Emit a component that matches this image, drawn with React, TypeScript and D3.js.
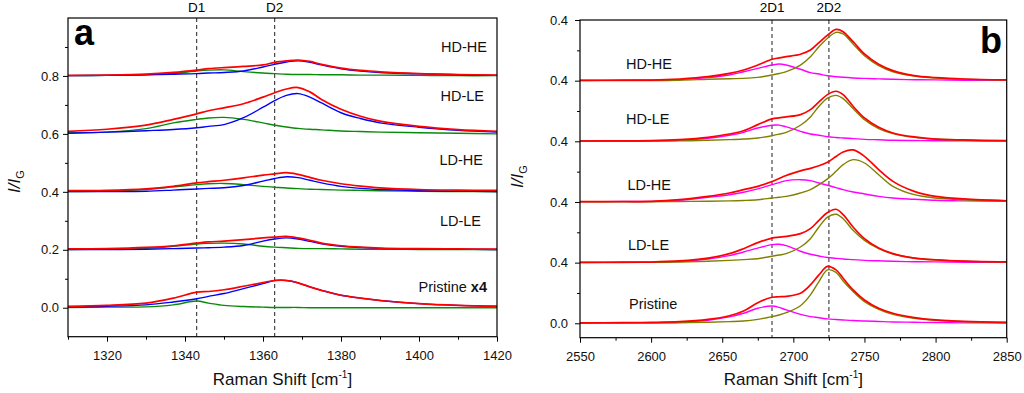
import { useEffect, useRef } from "react";
import * as d3 from "d3";

// ---- panel a : D band (values above each sample's baseline) ----
const dShift = [1310, 1320, 1330, 1337, 1343, 1346, 1350, 1355, 1360, 1363, 1366, 1369, 1372, 1375, 1380, 1385, 1390, 1400, 1410, 1420];
const dOffsets = [0, 0.2, 0.4, 0.6, 0.8];
const dSamples = ["Pristine", "LD-LE", "LD-HE", "HD-LE", "HD-HE"];
const dPeakLines = [1343, 1363];
const dPeakNames = ["D1", "D2"];

const pristineD1 = [0.001, 0.002, 0.003, 0.01, 0.023, 0.016, 0.008, 0.004, 0.002, 0.001, 0.001, 0.001, 0, 0, 0, 0, 0, 0, 0, 0];
const pristineD2 = [0.003, 0.005, 0.01, 0.02, 0.031, 0.039, 0.049, 0.066, 0.083, 0.094, 0.094, 0.086, 0.072, 0.06, 0.043, 0.033, 0.025, 0.014, 0.008, 0.005];
const pristineD = [0.005, 0.008, 0.016, 0.033, 0.054, 0.056, 0.062, 0.074, 0.087, 0.094, 0.094, 0.086, 0.072, 0.06, 0.043, 0.033, 0.025, 0.014, 0.008, 0.005];

const ldleD1 = [0.001, 0.002, 0.005, 0.012, 0.02, 0.022, 0.023, 0.02, 0.012, 0.009, 0.007, 0.005, 0.004, 0.004, 0.003, 0.002, 0.002, 0.001, 0.001, 0];
const ldleD2 = [0.001, 0.001, 0.002, 0.004, 0.006, 0.007, 0.009, 0.015, 0.03, 0.037, 0.041, 0.037, 0.029, 0.021, 0.012, 0.008, 0.005, 0.003, 0.002, 0.001];
const ldleD = [0.003, 0.004, 0.008, 0.014, 0.023, 0.027, 0.03, 0.035, 0.041, 0.044, 0.046, 0.041, 0.033, 0.023, 0.014, 0.009, 0.006, 0.004, 0.003, 0.002];

const ldheD1 = [0.001, 0.003, 0.008, 0.017, 0.025, 0.028, 0.029, 0.025, 0.019, 0.016, 0.013, 0.011, 0.009, 0.008, 0.006, 0.005, 0.004, 0.002, 0.001, 0];
const ldheD2 = [0.001, 0.001, 0.002, 0.006, 0.01, 0.012, 0.014, 0.022, 0.037, 0.046, 0.052, 0.049, 0.04, 0.031, 0.019, 0.012, 0.008, 0.004, 0.002, 0.001];
const ldheD = [0.004, 0.005, 0.01, 0.019, 0.031, 0.035, 0.04, 0.048, 0.058, 0.062, 0.066, 0.06, 0.05, 0.04, 0.028, 0.02, 0.014, 0.008, 0.006, 0.005];

const hdleD1 = [0.004, 0.006, 0.018, 0.038, 0.05, 0.055, 0.057, 0.05, 0.038, 0.03, 0.024, 0.019, 0.016, 0.014, 0.01, 0.008, 0.006, 0.004, 0.002, 0];
const hdleD2 = [0.002, 0.006, 0.011, 0.015, 0.021, 0.026, 0.032, 0.056, 0.092, 0.115, 0.133, 0.139, 0.127, 0.107, 0.073, 0.053, 0.038, 0.023, 0.012, 0.006];
const hdleD = [0.009, 0.016, 0.03, 0.05, 0.069, 0.08, 0.09, 0.104, 0.127, 0.142, 0.155, 0.16, 0.145, 0.119, 0.085, 0.061, 0.044, 0.026, 0.015, 0.009];

const hdheD1 = [0.001, 0.002, 0.004, 0.009, 0.017, 0.02, 0.021, 0.015, 0.01, 0.008, 0.006, 0.005, 0.005, 0.004, 0.004, 0.003, 0.003, 0.002, 0.001, 0.001];
const hdheD2 = [0.001, 0.002, 0.004, 0.006, 0.008, 0.01, 0.012, 0.017, 0.031, 0.04, 0.048, 0.052, 0.047, 0.038, 0.025, 0.017, 0.012, 0.007, 0.004, 0.002];
const hdheD = [0.002, 0.003, 0.006, 0.012, 0.02, 0.025, 0.029, 0.033, 0.038, 0.047, 0.052, 0.055, 0.05, 0.04, 0.027, 0.019, 0.014, 0.008, 0.005, 0.003];

const dTicksX = [1320, 1340, 1360, 1380, 1400, 1420];
const dMinorX = [1310, 1330, 1350, 1370, 1390, 1410];
const dTicksY = [0, 0.2, 0.4, 0.6, 0.8];
const dTickLabelsY = ["0.0", "0.2", "0.4", "0.6", "0.8"];
const dMinorY = [0.1, 0.3, 0.5, 0.7, 0.9];

// ---- panel b : 2D band ----
const tdShift = [2550, 2580, 2600, 2620, 2640, 2655, 2665, 2675, 2685, 2690, 2695, 2705, 2712, 2718, 2724, 2730, 2735, 2742, 2750, 2760, 2770, 2785, 2800, 2820, 2850];
const tdOffsets = [0, 0.4, 0.8, 1.2, 1.6];
const tdSamples = ["Pristine", "LD-LE", "LD-HE", "HD-LE", "HD-HE"];
const tdPeakLines = [2685, 2725];
const tdPeakNames = ["2D1", "2D2"];

const pristine2D1 = [0.002, 0.003, 0.004, 0.007, 0.02, 0.042, 0.066, 0.099, 0.114, 0.105, 0.088, 0.059, 0.044, 0.037, 0.029, 0.025, 0.022, 0.018, 0.015, 0.012, 0.009, 0.007, 0.005, 0.003, 0.002];
const pristine2D2 = [0.001, 0.001, 0.002, 0.004, 0.007, 0.011, 0.015, 0.026, 0.044, 0.055, 0.07, 0.116, 0.187, 0.275, 0.352, 0.336, 0.279, 0.209, 0.143, 0.092, 0.059, 0.033, 0.02, 0.011, 0.005];
const pristine2D = [0.003, 0.004, 0.006, 0.011, 0.026, 0.05, 0.081, 0.136, 0.172, 0.175, 0.178, 0.198, 0.253, 0.319, 0.375, 0.352, 0.297, 0.22, 0.154, 0.099, 0.066, 0.037, 0.022, 0.012, 0.006];

const ldle2D1 = [0.002, 0.002, 0.003, 0.007, 0.024, 0.046, 0.07, 0.096, 0.119, 0.121, 0.112, 0.075, 0.055, 0.044, 0.034, 0.028, 0.024, 0.02, 0.015, 0.012, 0.009, 0.006, 0.005, 0.003, 0.002];
const ldle2D2 = [0.001, 0.001, 0.002, 0.004, 0.009, 0.015, 0.02, 0.026, 0.042, 0.05, 0.059, 0.103, 0.158, 0.235, 0.3, 0.319, 0.29, 0.213, 0.147, 0.092, 0.057, 0.031, 0.018, 0.01, 0.004];
const ldle2D = [0.002, 0.003, 0.004, 0.011, 0.03, 0.059, 0.092, 0.132, 0.162, 0.168, 0.173, 0.191, 0.224, 0.279, 0.33, 0.352, 0.317, 0.235, 0.158, 0.096, 0.059, 0.03, 0.018, 0.01, 0.005];

const ldhe2D1 = [0.002, 0.003, 0.004, 0.011, 0.031, 0.048, 0.064, 0.086, 0.114, 0.128, 0.141, 0.147, 0.141, 0.125, 0.11, 0.095, 0.081, 0.066, 0.053, 0.037, 0.026, 0.018, 0.011, 0.007, 0.004];
const ldhe2D2 = [0.001, 0.001, 0.001, 0.003, 0.005, 0.007, 0.01, 0.015, 0.026, 0.031, 0.037, 0.059, 0.081, 0.114, 0.152, 0.202, 0.246, 0.279, 0.257, 0.18, 0.103, 0.048, 0.026, 0.014, 0.006];
const ldhe2D = [0.002, 0.003, 0.004, 0.015, 0.037, 0.059, 0.081, 0.103, 0.135, 0.155, 0.175, 0.205, 0.222, 0.239, 0.262, 0.3, 0.33, 0.343, 0.301, 0.213, 0.136, 0.07, 0.037, 0.02, 0.008];

const hdle2D1 = [0.002, 0.002, 0.003, 0.006, 0.02, 0.04, 0.059, 0.088, 0.106, 0.107, 0.095, 0.066, 0.048, 0.04, 0.03, 0.025, 0.022, 0.018, 0.013, 0.01, 0.007, 0.005, 0.004, 0.003, 0.002];
const hdle2D2 = [0.001, 0.001, 0.001, 0.003, 0.007, 0.011, 0.015, 0.022, 0.037, 0.047, 0.059, 0.106, 0.161, 0.231, 0.285, 0.303, 0.282, 0.216, 0.143, 0.084, 0.051, 0.026, 0.015, 0.008, 0.004];
const hdle2D = [0.002, 0.003, 0.004, 0.011, 0.026, 0.048, 0.07, 0.11, 0.148, 0.155, 0.161, 0.176, 0.209, 0.26, 0.308, 0.33, 0.308, 0.231, 0.154, 0.092, 0.055, 0.029, 0.015, 0.009, 0.004];

const hdhe2D1 = [0.002, 0.002, 0.003, 0.007, 0.02, 0.037, 0.059, 0.081, 0.103, 0.11, 0.103, 0.075, 0.053, 0.044, 0.032, 0.026, 0.022, 0.018, 0.015, 0.012, 0.009, 0.006, 0.005, 0.003, 0.002];
const hdhe2D2 = [0.001, 0.001, 0.001, 0.003, 0.009, 0.013, 0.015, 0.022, 0.037, 0.047, 0.059, 0.103, 0.158, 0.224, 0.28, 0.318, 0.308, 0.242, 0.165, 0.099, 0.059, 0.031, 0.018, 0.01, 0.004];
const hdhe2D = [0.002, 0.003, 0.004, 0.011, 0.026, 0.048, 0.07, 0.103, 0.141, 0.15, 0.158, 0.174, 0.202, 0.251, 0.3, 0.338, 0.323, 0.257, 0.176, 0.108, 0.066, 0.033, 0.02, 0.011, 0.005];

const tdTicksX = [2550, 2600, 2650, 2700, 2750, 2800, 2850];
const tdMinorX = [2575, 2625, 2675, 2725, 2775, 2825];
const tdTicksY = [0, 0.4, 0.8, 1.2, 1.6, 2.0];
const tdTickLabelsY = ["0.0", "0.4", "0.4", "0.4", "0.4", "0.4"];
const tdMinorY = [0.2, 0.6, 1.0, 1.4, 1.8];

const FONT = "'Liberation Sans', Arial, sans-serif";

const App = () => {
  const svgRef = useRef(null);

  useEffect(() => {
    const svg = d3.select(svgRef.current);
    svg.selectAll("*").remove();

    const panels = [
      {
        id: "a",
        xDomain: [1310, 1420],
        xRange: [68, 497],
        yDomain: [-0.1, 1.0],
        yRange: [336.7, 18],
        shift: dShift,
        offsets: dOffsets,
        curves: [
          [pristineD1, pristineD2, pristineD],
          [ldleD1, ldleD2, ldleD],
          [ldheD1, ldheD2, ldheD],
          [hdleD1, hdleD2, hdleD],
          [hdheD1, hdheD2, hdheD],
        ],
        colors: ["#0a8a0a", "#0000ff", "#ff0000"],
        lines: dPeakLines,
        lineNames: dPeakNames,
        ticksX: dTicksX,
        minorX: dMinorX,
        ticksY: dTicksY,
        tickLabelsY: dTickLabelsY,
        minorY: dMinorY,
        yPad: 4,
        labels: dSamples,
        labelAnchor: "end",
        labelX: [487, 481, 483, 484, 487],
        labelY: [286.7, 220.7, 160, 95.7, 46.7],
        letter: "a",
        letterX: 74,
        letterY: 45,
        titleX: 20,
        titleY: 193,
      },
      {
        id: "b",
        xDomain: [2550, 2850],
        xRange: [580, 1006.7],
        yDomain: [-0.095, 2.0],
        yRange: [337.7, 20],
        shift: tdShift,
        offsets: tdOffsets,
        curves: [
          [pristine2D1, pristine2D2, pristine2D],
          [ldle2D1, ldle2D2, ldle2D],
          [ldhe2D1, ldhe2D2, ldhe2D],
          [hdle2D1, hdle2D2, hdle2D],
          [hdhe2D1, hdhe2D2, hdhe2D],
        ],
        colors: ["#ff00ff", "#808000", "#ff0000"],
        lines: tdPeakLines,
        lineNames: tdPeakNames,
        ticksX: tdTicksX,
        minorX: tdMinorX,
        ticksY: tdTicksY,
        tickLabelsY: tdTickLabelsY,
        minorY: tdMinorY,
        yPad: 7,
        labels: tdSamples,
        labelAnchor: "start",
        labelX: [629, 628, 627.5, 626, 626],
        labelY: [303.3, 245, 185, 118.3, 63.3],
        letter: "b",
        letterX: 980,
        letterY: 53,
        titleX: 523,
        titleY: 188,
      },
    ];

    panels.forEach((p) => {
      const x = d3.scaleLinear().domain(p.xDomain).range(p.xRange);
      const y = d3.scaleLinear().domain(p.yDomain).range(p.yRange);
      const [x0, x1] = p.xRange;
      const [yb, yt] = p.yRange;
      const g = svg.append("g");

      g.append("clipPath")
        .attr("id", `clip-${p.id}`)
        .append("rect")
        .attr("x", x0)
        .attr("y", yt)
        .attr("width", x1 - x0)
        .attr("height", yb - yt);

      // dashed peak positions
      g.selectAll(".peak")
        .data(p.lines)
        .join("line")
        .attr("x1", (d) => x(d))
        .attr("x2", (d) => x(d))
        .attr("y1", yt)
        .attr("y2", yb)
        .attr("stroke", "#222")
        .attr("stroke-width", 1)
        .attr("stroke-dasharray", "4,3");

      g.selectAll(".peakname")
        .data(p.lineNames)
        .join("text")
        .attr("x", (d, i) => x(p.lines[i]))
        .attr("y", 12)
        .attr("text-anchor", "middle")
        .attr("font-family", FONT)
        .attr("font-size", 13.5)
        .text((d) => d);

      // spectra: fitted components first, measured sum on top
      const plot = g.append("g").attr("clip-path", `url(#clip-${p.id})`);
      p.curves.forEach((set, k) => {
        set.forEach((vals, c) => {
          const line = d3
            .line()
            .x((d, i) => x(p.shift[i]))
            .y((d) => y(p.offsets[k] + d))
            .curve(d3.curveCatmullRom.alpha(0.5));
          plot
            .append("path")
            .datum(vals)
            .attr("d", line)
            .attr("fill", "none")
            .attr("stroke", p.colors[c])
            .attr("stroke-width", c === 2 ? 1.7 : 1.4)
            .attr("stroke-linejoin", "round");
        });
      });

      // axes
      const xAxis = g
        .append("g")
        .attr("transform", `translate(0,${yb})`)
        .call(
          d3.axisBottom(x).tickValues(p.ticksX).tickSize(5).tickSizeOuter(0).tickPadding(9).tickFormat(d3.format("d"))
        );
      g.append("g")
        .attr("transform", `translate(0,${yb})`)
        .call(d3.axisBottom(x).tickValues(p.minorX).tickSize(3).tickSizeOuter(0).tickFormat(() => ""));
      const yAxis = g
        .append("g")
        .attr("transform", `translate(${x0},0)`)
        .call(
          d3
            .axisLeft(y)
            .tickValues(p.ticksY)
            .tickSize(5)
            .tickSizeOuter(0)
            .tickPadding(p.yPad)
            .tickFormat((d, i) => p.tickLabelsY[i])
        );
      g.append("g")
        .attr("transform", `translate(${x0},0)`)
        .call(d3.axisLeft(y).tickValues(p.minorY).tickSize(3).tickSizeOuter(0).tickFormat(() => ""));

      g.selectAll(".domain").remove();
      g.selectAll(".tick line").attr("stroke", "#000").attr("stroke-width", 1);
      [xAxis, yAxis].forEach((a) =>
        a.selectAll("text").attr("font-family", FONT).attr("font-size", 13).attr("fill", "#111")
      );

      g.append("rect")
        .attr("x", x0)
        .attr("y", yt)
        .attr("width", x1 - x0)
        .attr("height", yb - yt)
        .attr("fill", "none")
        .attr("stroke", "#000")
        .attr("stroke-width", 1.2);

      // sample labels
      g.selectAll(".lab")
        .data(p.labels)
        .join("text")
        .attr("x", (d, i) => p.labelX[i])
        .attr("y", (d, i) => p.labelY[i])
        .attr("dy", "0.36em")
        .attr("text-anchor", p.labelAnchor)
        .attr("font-family", FONT)
        .attr("font-size", 14.5)
        .attr("fill", "#111")
        .each(function (d) {
          const t = d3.select(this);
          t.append("tspan").text(d);
          if (p.id === "a" && d === "Pristine") {
            t.append("tspan").attr("font-weight", "bold").text(" x4");
          }
        });

      g.append("text")
        .attr("x", p.letterX)
        .attr("y", p.letterY)
        .attr("font-family", FONT)
        .attr("font-weight", "bold")
        .attr("font-size", 36)
        .text(p.letter);

      // axis titles
      const xt = g
        .append("text")
        .attr("x", (x0 + x1) / 2)
        .attr("y", 385)
        .attr("text-anchor", "middle")
        .attr("font-family", FONT)
        .attr("font-size", 17)
        .attr("fill", "#111");
      xt.append("tspan").text("Raman Shift [cm");
      xt.append("tspan").attr("font-size", 10).attr("dy", -7).text("-1");
      xt.append("tspan").attr("dy", 7).text("]");

      const yt2 = g
        .append("text")
        .attr("transform", `translate(${p.titleX},${p.titleY}) rotate(-90)`)
        .attr("font-family", FONT)
        .attr("font-size", 17)
        .attr("fill", "#111");
      yt2.append("tspan").attr("font-style", "italic").text("I/I");
      yt2.append("tspan").attr("font-size", 11).attr("dy", 4).text("G");
    });
  }, []);

  return (
    <svg
      ref={svgRef}
      width={1024}
      height={393}
      style={{ position: "absolute", left: 0, top: 0, background: "#fff" }}
    />
  );
};

export default App;
